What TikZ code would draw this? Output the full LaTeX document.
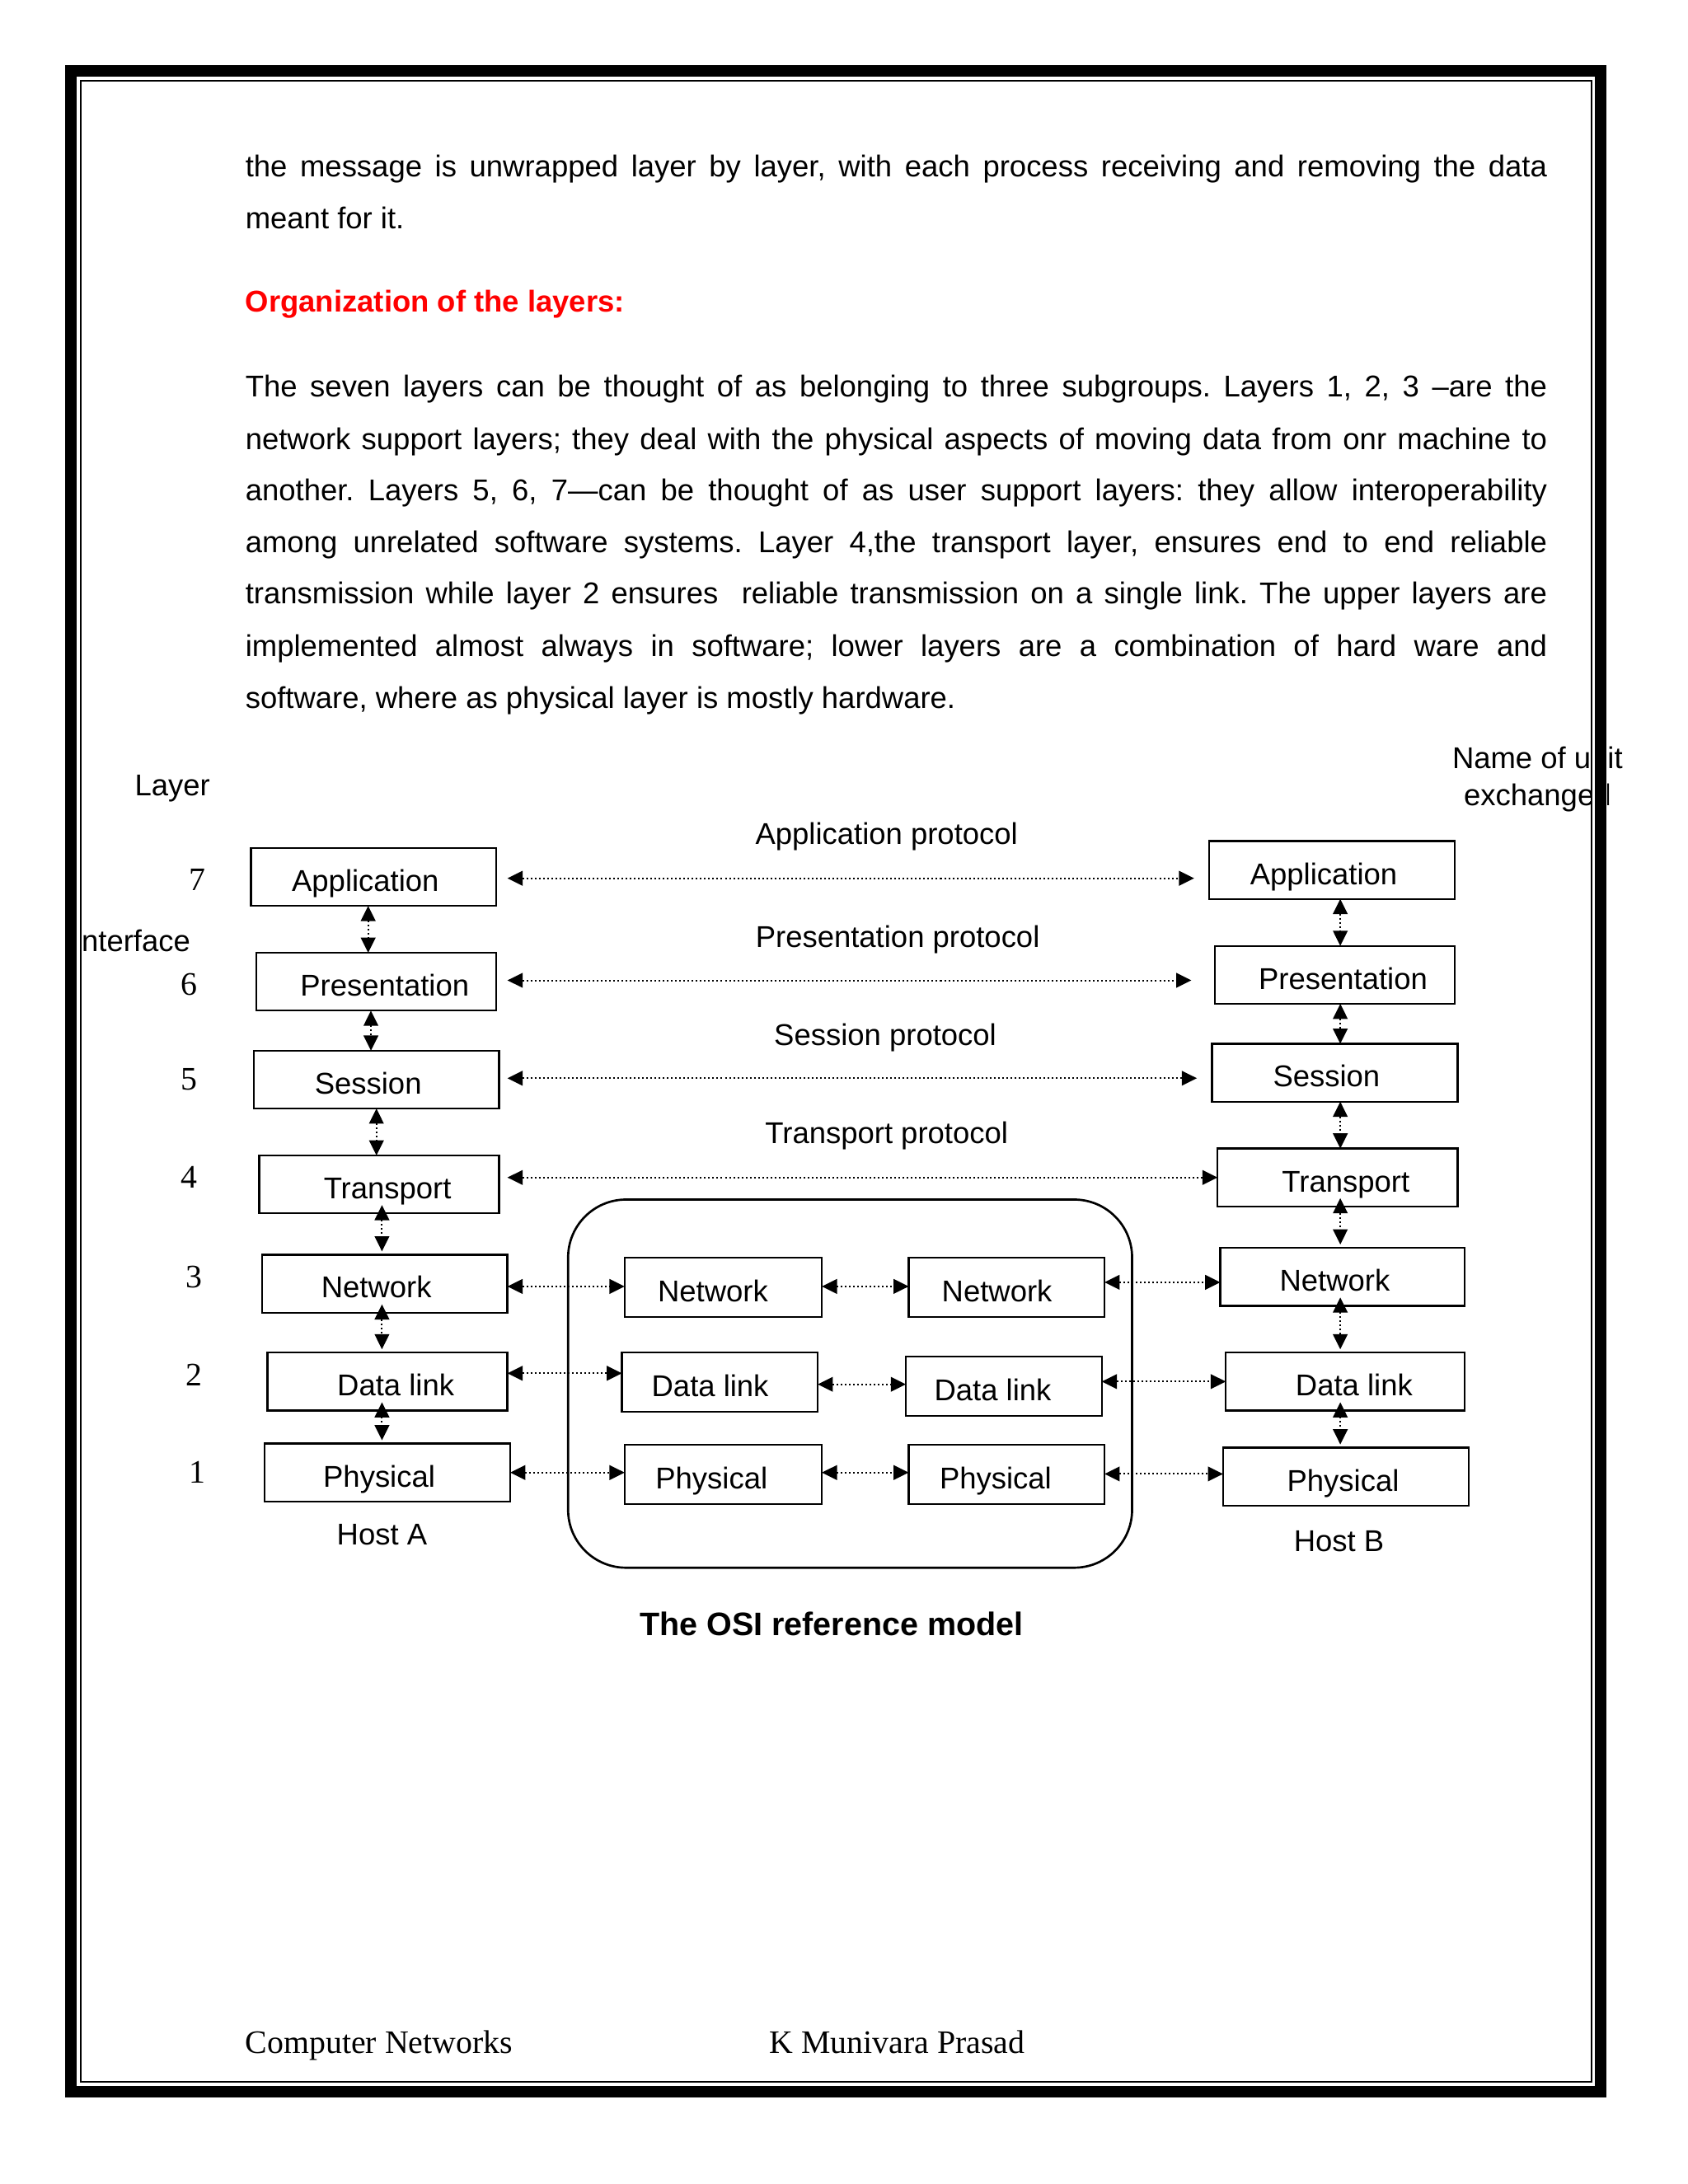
\documentclass[tikz,border=0pt]{standalone}
\usepackage{fontspec}
\setmainfont{Liberation Sans}
\newfontfamily\tms{Liberation Serif}
\usetikzlibrary{arrows.meta}
\frenchspacing
\newcommand\fs{\fontsize{10.9bp}{13bp}\selectfont}
\newcommand\fst{\tms\fontsize{11.9bp}{14bp}\selectfont}
\newcommand\tx[2]{\makebox[0pt]{\hspace*{#1}#2}}
\newcommand\jl[1]{\makebox[472bp][s]{#1}}
\definecolor{headred}{RGB}{255,0,0}
\begin{document}
\begin{tikzpicture}[x=0.5bp,y=-0.5bp,
  every node/.style={inner sep=0pt,outer sep=0pt},
  box/.style={draw,line width=0.7bp,minimum height=21bp,font=\fs,text height=10.4bp,text depth=0pt},
  lbl/.style={font=\fs},
  num/.style={font=\fst},
  txt/.style={anchor=base west,font=\fs},
  link/.style={line width=0.6bp,dash pattern=on 0.6bp off 0.9bp,
    arrows={Triangle[length=5.5bp,width=5.3bp]-Triangle[length=5.5bp,width=5.3bp]}},
  low/.style={shorten <=-3bp,shorten >=1.2bp}]
\useasboundingbox (0,0) rectangle (1224,1584);
\fill[white] (0,0) rectangle (1224,1584);

% ---- text ----
\node[txt] (t1) at (178,128.5) {\jl{the message is unwrapped layer by layer, with each process receiving and removing the data}};
\node[txt] (t2) at (178,166) {meant for it.};
\node[txt,font=\fs\bfseries,text=headred] (head) at (178,226.5) {Organization of the layers:};
\node[txt] (s1) at (178,288) {\jl{The seven layers can be thought of as belonging to three subgroups. Layers 1, 2, 3 –are the}};
\node[txt] (s2) at (178,326) {\jl{network support layers; they deal with the physical aspects of moving data from onr machine to}};
\node[txt] (s3) at (178,363) {\jl{another. Layers 5, 6, 7—can be thought of as user support layers: they allow interoperability}};
\node[txt] (s4) at (178,401) {\jl{among unrelated software systems. Layer 4,the transport layer, ensures end to end reliable}};
\node[txt] (s5) at (178,438) {\jl{transmission while layer 2 ensures~ reliable transmission on a single link. The upper layers are}};
\node[txt] (s6) at (178,476) {\jl{implemented almost always in software; lower layers are a combination of hard ware and}};
\node[txt] (s7) at (178,514) {software, where as physical layer is mostly hardware.};

% ---- sub network ----
\node[draw,line width=0.8bp,rounded corners=21bp,minimum width=204.5bp,minimum height=133.5bp] (subnet) at (616.5,1003.5) {};

% ---- host A ----
\node[box,minimum width=89bp] (a7) at (271,636) {\tx{-6bp}{Application}};
\node[box,minimum width=87bp] (a6) at (273,712) {\tx{6bp}{Presentation}};
\node[box,minimum width=89bp] (a5) at (273,783) {\tx{-6bp}{Session}};
\node[box,minimum width=87bp] (a4) at (275,859) {\tx{6bp}{Transport}};
\node[box,minimum width=89bp] (a3) at (279,931) {\tx{-6bp}{Network}};
\node[box,minimum width=87bp] (a2) at (281,1002) {\tx{6bp}{Data link}};
\node[box,minimum width=89bp] (a1) at (281,1068) {\tx{-6bp}{Physical}};

% ---- host B ----
\node[box,minimum width=89bp] (b7) at (966,631) {\tx{-6bp}{Application}};
\node[box,minimum width=87bp] (b6) at (968,707) {\tx{6bp}{Presentation}};
\node[box,minimum width=89bp] (b5) at (968,778) {\tx{-6bp}{Session}};
\node[box,minimum width=87bp] (b4) at (970,854) {\tx{6bp}{Transport}};
\node[box,minimum width=88.5bp] (b3) at (973.5,926) {\tx{-5.5bp}{Network}};
\node[box,minimum width=86.5bp] (b2) at (975.5,1002) {\tx{6.5bp}{Data link}};
\node[box,minimum width=89bp] (b1) at (976,1071) {\tx{-2bp}{Physical}};

% ---- routers ----
\node[box,minimum width=71.5bp,minimum height=21.5bp] (n1) at (524.5,933.5) {\tx{-7.5bp}{Network}};
\node[box,minimum width=71bp,minimum height=21.5bp] (n2) at (730,933.5) {\tx{-7bp}{Network}};
\node[box,minimum width=71bp,minimum height=21.5bp] (d1) at (522,1002.5) {\tx{-7bp}{Data link}};
\node[box,minimum width=71bp,minimum height=21.5bp] (d2) at (728,1005.5) {\tx{-8bp}{Data link}};
\node[box,minimum width=71.5bp,minimum height=21.5bp] (p1) at (524.5,1069.5) {\tx{-8.5bp}{Physical}};
\node[box,minimum width=71bp,minimum height=21.5bp] (p2) at (730,1069.5) {\tx{-8bp}{Physical}};

% ---- helper coordinates ----
\coordinate (cL1) at (267,0);
\coordinate (cL2) at (269,0);
\coordinate (cL3) at (273,0);
\coordinate (cL4) at (277,0);
\coordinate (cR) at (972,0);
\coordinate (rA) at (0,637);
\coordinate (rP) at (0,711);
\coordinate (rS) at (0,782);
\coordinate (rT) at (0,854);
\coordinate (rN) at (0,933);
\coordinate (rN2) at (0,930);
\coordinate (rD1) at (0,996);
\coordinate (rD2) at (0,1004);
\coordinate (rD3) at (0,1002);
\coordinate (rPh) at (0,1068);
\coordinate (rPh3) at (0,1069);

% ---- vertical interfaces ----
\draw[link] (a7.south -| cL1) -- (a6.north -| cL1);
\draw[link] (a6.south -| cL2) -- (a5.north -| cL2);
\draw[link] (a5.south -| cL3) -- (a4.north -| cL3);
\draw[link,low] (a4.south -| cL4) -- (a3.north -| cL4);
\draw[link,low] (a3.south -| cL4) -- (a2.north -| cL4);
\draw[link,low] (a2.south -| cL4) -- (a1.north -| cL4);
\draw[link] (b7.south -| cR) -- (b6.north -| cR);
\draw[link] (b6.south -| cR) -- (b5.north -| cR);
\draw[link] (b5.south -| cR) -- (b4.north -| cR);
\draw[link,low] (b4.south -| cR) -- (b3.north -| cR);
\draw[link,low] (b3.south -| cR) -- (b2.north -| cR);
\draw[link,low] (b2.south -| cR) -- (b1.north -| cR);

% ---- peer protocols ----
\draw[link,shorten <=4bp,shorten >=5.5bp] (a7.east |- rA) -- (b7.west |- rA);
\draw[link,shorten <=4bp,shorten >=8.5bp] (a6.east |- rP) -- (b6.west |- rP);
\draw[link,shorten <=3bp,shorten >=5.5bp] (a5.east |- rS) -- (b5.west |- rS);
\draw[link,shorten <=3bp] (a4.east |- rT) -- (b4.west |- rT);

\draw[link] (a3.east |- rN) -- (n1.west |- rN);
\draw[link] (n1.east |- rN) -- (n2.west |- rN);
\draw[link] (n2.east |- rN2) -- (b3.west |- rN2);
\draw[link] (a2.east |- rD1) -- (d1.west |- rD1);
\draw[link] (d1.east |- rD2) -- (d2.west |- rD2);
\draw[link] (d2.east |- rD3) -- (b2.west |- rD3);
\draw[link] (a1.east |- rPh) -- (p1.west |- rPh);
\draw[link] (p1.east |- rPh) -- (p2.west |- rPh);
\draw[link] (p2.east |- rPh3) -- (b1.west |- rPh3);

% ---- labels ----
\node[lbl] (layerlbl) at (125,572) {Layer};
\node[lbl,anchor=east] (iflbl) at (138,682) {Interface};
\node[align=center,font={\fontsize{10.9bp}{13.5bp}\selectfont}] (unitlbl) at (1115,565) {Name of unit\\exchanged};
\node[num] (l7) at (143,638) {7};
\node[num] (l6) at (137,714) {6};
\node[num] (l5) at (137,783) {5};
\node[num] (l4) at (137,854) {4};
\node[num] (l3) at (141,926) {3};
\node[num] (l2) at (141,997) {2};
\node[num] (l1) at (143,1068) {1};
\node[lbl] (pal) at (643,606.5) {Application protocol};
\node[lbl] (ppl) at (651,681.5) {Presentation protocol};
\node[lbl] (psl) at (642,752.5) {Session protocol};
\node[lbl] (ptl) at (643,823.5) {Transport protocol};
\node[lbl] (hosta) at (277,1113) {Host A};
\node[lbl] (hostb) at (971,1118) {Host B};
\node[font={\fontsize{11.8bp}{14bp}\selectfont\bfseries}] (title) at (603,1178) {The OSI reference model};

% ---- footer ----
\node[anchor=base west,font=\fst] (foot1) at (178,1489) {Computer Networks};
\node[anchor=base west,font=\fst] (foot2) at (558,1489) {K Munivara Prasad};

% ---- page border ----
\fill[white,even odd rule] (47,47) rectangle (1165.5,1521.5) (58,58) rectangle (1154,1510);
\draw[line width=4.25bp] (51.5,51.5) rectangle (1161,1517);
\draw[line width=0.6bp] (58.5,58.5) rectangle (1154,1510);
\end{tikzpicture}
\end{document}
